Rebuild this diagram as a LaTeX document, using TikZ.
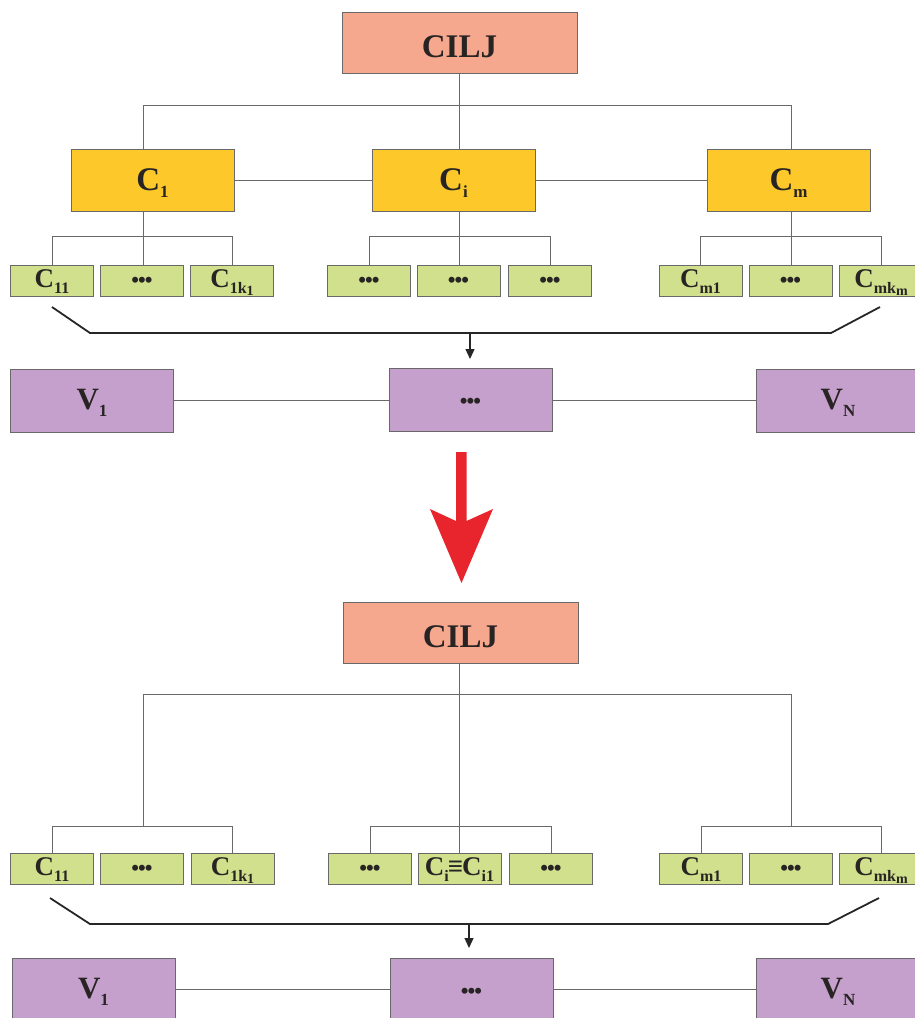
\documentclass[tikz,border=0pt]{standalone}
\usepackage{fontspec}
\setmainfont{Liberation Serif}
\usetikzlibrary{arrows.meta}
\definecolor{salmon}{RGB}{246,168,142}
\definecolor{gold}{RGB}{252,200,42}
\definecolor{lime}{RGB}{208,224,140}
\definecolor{lilac}{RGB}{198,160,204}
\definecolor{edgegray}{RGB}{105,105,105}
\definecolor{ink}{RGB}{40,36,36}
\definecolor{redarrow}{RGB}{232,36,44}
\newcommand{\fs}[1]{\fontsize{#1}{#1}\selectfont}
\newcommand{\sbs}[3]{\raisebox{-#2}{\fs{#1}#3}}
\newcommand{\dotsrow}{{\fs{22}\char"2022\kern-1pt\char"2022\kern-1pt\char"2022}}
\tikzset{
  box/.style={draw=edgegray, line width=0.9pt, inner sep=0pt, text=ink},
  topbox/.style={box, fill=salmon, minimum width=235pt, minimum height=61pt,
    font=\bfseries\fs{33}, text height=31pt, text depth=2pt},
  catbox/.style={box, fill=gold, minimum width=163pt, minimum height=62pt,
    font=\bfseries\fs{33}, text height=24pt, text depth=5pt},
  leaf/.style={box, fill=lime, minimum width=83pt, minimum height=31pt,
    font=\bfseries\fs{27}, text height=18pt, text depth=5pt},
  vbox/.style={box, fill=lilac, minimum width=163pt, minimum height=63pt,
    font=\bfseries\fs{31}, text height=22pt, text depth=4pt},
  conn/.style={draw=edgegray, line width=0.9pt},
  brace/.style={draw=black!85, line width=1.8pt},
  downarrow/.style={draw=black!85, line width=1.2pt, -{Triangle[length=10pt,width=9pt]}},
}
\begin{document}
\begin{tikzpicture}[x=1pt,y=-1pt]
\useasboundingbox (0,0) rectangle (915,1018);

% ---------------- upper diagram ----------------
\node[topbox] (cilj) at (459.5,42.5) {CILJ};
\node[catbox] (c1) at (152.5,180.5) {C\sbs{17}{7pt}{1}};
\node[catbox] (ci) at (453.5,180.5) {C\sbs{17}{7pt}{i}};
\node[catbox] (cm) at (788.5,180.5) {C\sbs{17}{7pt}{m}};

\node[leaf] (a11) at (52,280.5) {C\sbs{16}{6pt}{11}};
\node[leaf] (a12) at (142,280.5) {\dotsrow};
\node[leaf] (a13) at (232,280.5) {C\sbs{16}{6pt}{1k\sbs{14}{2pt}{1}}};
\node[leaf] (a21) at (369,280.5) {\dotsrow};
\node[leaf] (a22) at (458.5,280.5) {\dotsrow};
\node[leaf] (a23) at (550,280.5) {\dotsrow};
\node[leaf] (a31) at (700.5,280.5) {C\sbs{16}{6pt}{m1}};
\node[leaf] (a32) at (790.5,280.5) {\dotsrow};
\node[leaf] (a33) at (881,280.5) {C\sbs{16}{6pt}{mk\sbs{14}{2pt}{m}}};

\node[vbox] (v1) at (92,400.5) {V\sbs{17}{7pt}{1}};
\node[vbox] (vmid) at (470.5,399.5) {\dotsrow};
\node[vbox] (vn) at (838,400.5) {V\sbs{17}{7pt}{N}};

\coordinate (b1) at (143,105);
\coordinate (bm) at (791,105);
\draw[conn] (cilj.south) -- (ci.north -| cilj.south);
\draw[conn] (c1.north -| b1) |- (bm) -- (cm.north -| bm);
\draw[conn] (c1.east) -- (ci.west);
\draw[conn] (ci.east) -- (cm.west);

\draw[conn] (c1.south -| b1) -- (a12.north -| b1);
\draw[conn] (a11.north) -- ++(0,-28) -| (a13.north);
\draw[conn] (ci.south -| cilj.south) -- (a22.north -| cilj.south);
\draw[conn] (a21.north) -- ++(0,-28) -| (a23.north);
\draw[conn] (cm.south -| bm) -- (a32.north -| bm);
\draw[conn] (a31.north) -- ++(0,-28) -| (a33.north);

\coordinate (ul) at (52,307);
\coordinate (ur) at (880,307);
\coordinate (uh) at (470,333);
\draw[brace] (ul) -- (90,333) -- (831,333) -- (ur);
\draw[downarrow] (uh) -- (470,359);

\draw[conn] (v1.east) -- (vmid.west |- v1.east);
\draw[conn] (vmid.east |- vn.west) -- (vn.west);

% ---------------- red arrow ----------------
\fill[redarrow] (456,452) -- (466.5,452) -- (466.5,521) -- (493,509) -- (461.5,583)
  -- (430,509) -- (456,521) -- cycle;

% ---------------- lower diagram ----------------
\node[topbox] (cilj2) at (460.5,632.5) {CILJ};

\node[leaf] (d11) at (52,869) {C\sbs{16}{6pt}{11}};
\node[leaf] (d12) at (142,869) {\dotsrow};
\node[leaf] (d13) at (232.5,869) {C\sbs{16}{6pt}{1k\sbs{14}{2pt}{1}}};
\node[leaf] (d21) at (370,869) {\dotsrow};
\node[leaf] (d22) at (459.5,869) {C\sbs{16}{6pt}{i}\kern-1pt{\fs{27}\char"2261}\kern-1pt C\sbs{16}{6pt}{i1}};
\node[leaf] (d23) at (551,869) {\dotsrow};
\node[leaf] (d31) at (701,869) {C\sbs{16}{6pt}{m1}};
\node[leaf] (d32) at (791,869) {\dotsrow};
\node[leaf] (d33) at (881,869) {C\sbs{16}{6pt}{mk\sbs{14}{2pt}{m}}};

\node[vbox] (w1) at (93.5,989.5) {V\sbs{17}{7pt}{1}};
\node[vbox] (wmid) at (471.5,989.5) {\dotsrow};
\node[vbox] (wn) at (838,989.5) {V\sbs{17}{7pt}{N}};

\coordinate (e1) at (143,694);
\coordinate (em) at (791,694);
\coordinate (f1) at (143,826);
\coordinate (fm) at (791,826);
\draw[conn] (cilj2.south -| d22.north) -- (d22.north);
\draw[conn] (f1) |- (em) -- (fm);
\draw[conn] (d11.north) |- (f1) -| (d13.north);
\draw[conn] (d21.north) -- ++(0,-27) -| (d23.north);
\draw[conn] (d31.north) |- (fm) -| (d33.north);

\coordinate (ll) at (50,898);
\coordinate (lr) at (879,898);
\coordinate (lh) at (469,924);
\draw[brace] (ll) -- (90,924) -- (828,924) -- (lr);
\draw[downarrow] (lh) -- (469,948);

\draw[conn] (w1.east) -- (wmid.west |- w1.east);
\draw[conn] (wmid.east |- wn.west) -- (wn.west);
\end{tikzpicture}
\end{document}
